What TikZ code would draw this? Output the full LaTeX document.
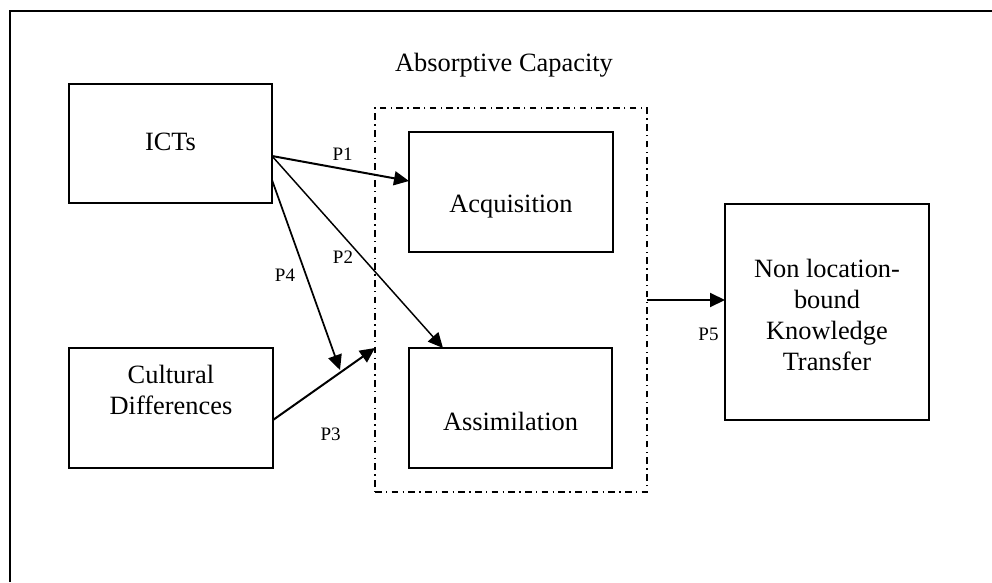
\documentclass[tikz,border=0pt]{standalone}
\usepackage{fontspec}
\setmainfont{Liberation Serif}
\usetikzlibrary{arrows.meta}
\begin{document}
\begin{tikzpicture}[x=0.75pt,y=-0.75pt,
  blk/.style={draw, line width=1.5pt, inner sep=0pt, outer sep=0pt},
  txt/.style={inner sep=0pt, font=\fontsize{19.8}{23.1}\selectfont},
  lbl/.style={inner sep=0pt, anchor=base, font=\fontsize{14.25}{17}\selectfont},
  link/.style={line width=1.5pt, -{Triangle[length=11.25pt,width=10.5pt]}},
  frame/.style={line width=1.5pt},
  acbox/.style={draw, line width=1.1pt, dash pattern=on 5pt off 3.25pt on 1pt off 3.25pt,
                inner sep=0pt, outer sep=0pt}]
\useasboundingbox (0,0) rectangle (992,582);

% open outer frame (left and top edges)
\draw[frame] (10,582) |- (992,11);

% absorptive capacity group
\node[acbox, minimum width=204pt, minimum height=288pt] (ac) at (511,300) {};
\node[txt, anchor=base] (actitle) at (504,71) {Absorptive Capacity};

% boxes
\node[blk, minimum width=152.25pt, minimum height=89.25pt] (ict) at (170.5,143.5) {};
\node[blk, minimum width=153pt, minimum height=90pt] (cult) at (171,408) {};
\node[blk, minimum width=153pt, minimum height=90pt] (acq) at (511,192) {};
\node[blk, minimum width=152.25pt, minimum height=90pt] (assim) at (510.5,408) {};
\node[blk, minimum width=153pt, minimum height=162pt] (nlb) at (827,312) {};

% box texts
\node[txt, anchor=base] (icttxt) at (170.5,150) {ICTs};
\node[txt, align=center] (culttxt) at (171,393.2) {\strut Cultural\\\strut Differences};
\node[txt, anchor=base] (acqtxt) at (511,212) {Acquisition};
\node[txt, anchor=base] (assimtxt) at (510.5,430) {Assimilation};
\node[txt, align=center] (nlbtxt) at (827,318)
  {\strut Non location-\\\strut bound\\\strut Knowledge\\\strut Transfer};

% propositions
\coordinate (p4end) at (340,370);
\draw[link] (ict.east |- 0,156) -- (acq.west |- 0,181);
\draw[link, line width=1.1pt] (ict.east |- 0,156) -- (assim.north -| 443,0);
\draw[link, line width=1.3pt] (ict.east |- 0,180) -- (p4end);
\draw[link] (cult.east |- 0,420) -- (ac.west |- 0,348);
\draw[link] (ac.east |- 0,300) -- (nlb.west |- 0,300);

\node[lbl] (p1) at (342.7,160.7) {P1};
\node[lbl] (p2) at (343,263) {P2};
\node[lbl] (p4) at (285,281.7) {P4};
\node[lbl] (p3) at (330.7,440) {P3};
\node[lbl] (p5) at (708.5,340) {P5};
\end{tikzpicture}
\end{document}
